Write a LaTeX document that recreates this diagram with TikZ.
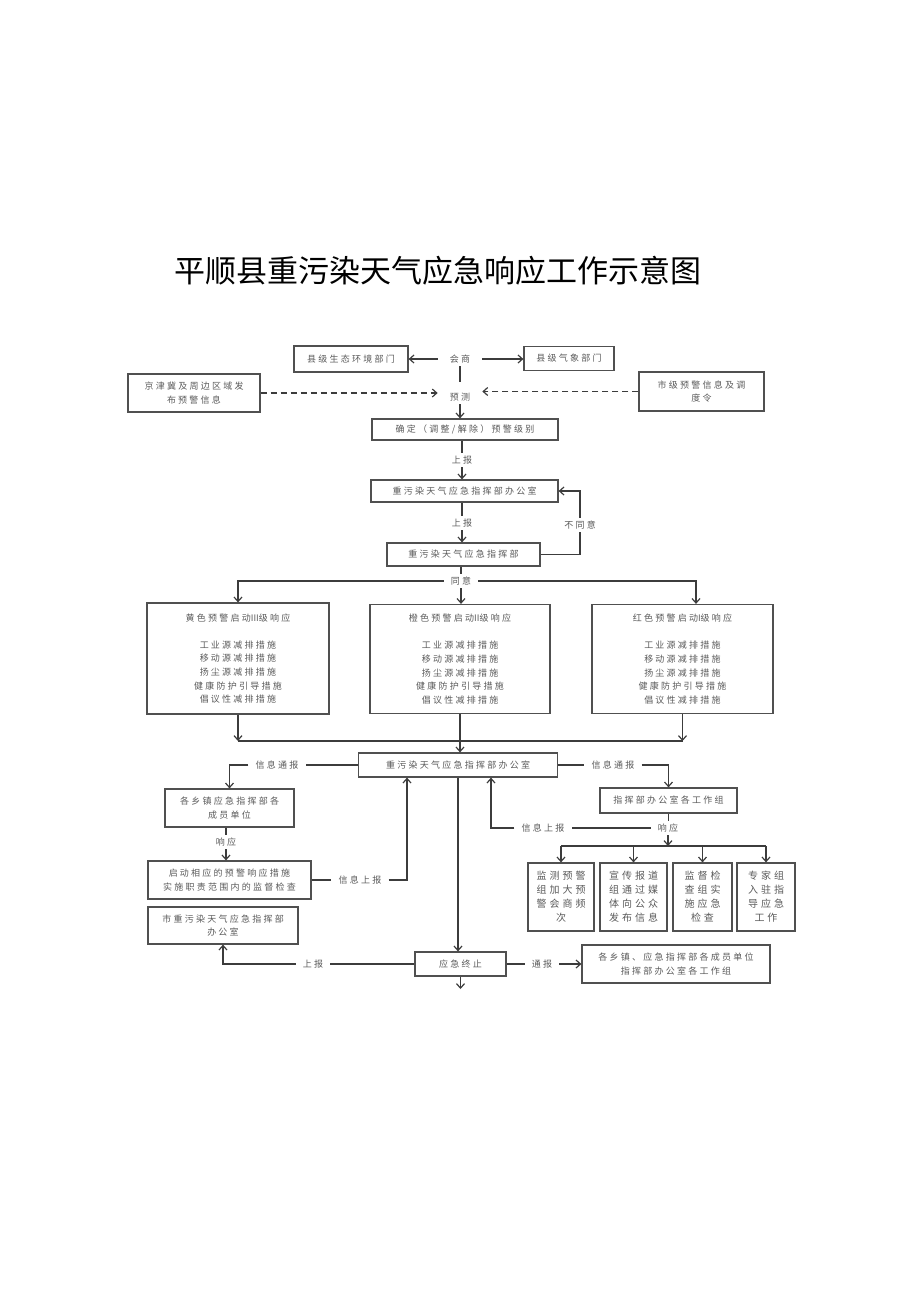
\documentclass[tikz,border=0pt]{standalone}
\usepackage{fontspec}
\setmainfont{Noto Sans CJK SC}
\newfontfamily\cjk{Noto Sans CJK SC}
\newfontfamily\cjks[LetterSpace=25]{Noto Sans CJK SC}
\newfontfamily\cjkw[LetterSpace=30]{Noto Sans CJK SC}
\usetikzlibrary{arrows.meta}
\definecolor{linec}{HTML}{3C3C3C}
\definecolor{boxc}{HTML}{505050}
\definecolor{txtc}{HTML}{5A5A5A}
\newcommand{\smfont}{\cjks\fontsize{9}{13.6}\selectfont}
\newcommand{\wdfont}{\cjkw\fontsize{10}{14}\selectfont}
\newcommand{\rom}[1]{{\cjk #1}}
\begin{document}
\begin{tikzpicture}[x=1pt,y=-1pt,
  >={Straight Barb[length=4.5pt,width=8pt]},
  conn/.style={draw=linec, line width=1.2pt},
  dconn/.style={draw=linec, line width=1.2pt, dash pattern=on 6pt off 4pt},
  box/.style={draw=boxc, line width=1.2pt, inner sep=0pt, align=center, text=txtc, font=\smfont},
  wbox/.style={box, font=\wdfont},
  lbl/.style={inner xsep=7pt, inner ysep=3pt, text=txtc, font=\smfont},
]
\useasboundingbox (0,0) rectangle (920,1301);

% title
\node[font=\cjk\fontsize{31}{31}\selectfont, inner sep=0pt] (title) at (437.5,271) {平顺县重污染天气应急响应工作示意图};

% top part
\node[box, minimum width=114pt, minimum height=26pt] (n1) at (351,359) {县级生态环境部门};
\node[box, minimum width=90pt, minimum height=24pt] (n2) at (569,358.5) {县级气象部门};
\node[lbl, inner xsep=12pt] (hs) at (460,359) {会商};
\node[lbl, inner xsep=12pt] (yc) at (460,397) {预测};
\node[box, minimum width=132pt, minimum height=38pt] (n3) at (194,393) {京津冀及周边区域发\\布预警信息};
\node[box, minimum width=125pt, minimum height=39pt] (n4) at (701.5,391.5) {市级预警信息及调\\度令};
\node[box, minimum width=186pt, minimum height=21pt] (n5) at (465,429.5) {确定（调整/解除）预警级别};
\node[lbl] (sb1) at (462,460) {上报};
\node[box, minimum width=187pt, minimum height=22pt] (n6) at (464.5,491) {重污染天气应急指挥部办公室};
\node[lbl] (sb2) at (462,523) {上报};
\node[box, minimum width=153pt, minimum height=23pt] (n7) at (463.5,554.5) {重污染天气应急指挥部};
\node[lbl] (bty) at (580,525) {不同意};
\node[lbl] (ty) at (461,581) {同意};

\draw[conn,->] (hs.west) -- (hs.west -| n1.east);
\draw[conn,->] (hs.east) -- (hs.east -| n2.west);
\draw[conn, shorten >=8pt] (hs.south) -- (yc.north);
\draw[dconn,->] (n3.east) -- (n3.east -| yc.west);
\draw[dconn,->] (n4.west) -- (n4.west -| yc.east);
\draw[conn,->] (yc.south) -- (yc.south |- n5.north);
\draw[conn] (n5.south -| sb1) -- (sb1.north);
\draw[conn,->] (sb1.south) -- (sb1.south |- n6.north);
\draw[conn] (n6.south -| sb2) -- (sb2.north);
\draw[conn,->] (sb2.south) -- (sb2.south |- n7.north);
\draw[conn] (n7.east) -| (bty.south);
\draw[conn,->] (bty.north) |- (n6.east);
\draw[conn] (n7.south -| ty) -- (ty.north);

% three level boxes
\node[box, minimum width=182pt, minimum height=111pt] (yel) at (238,658.5)
  {黄色预警启动\rom{III}级响应\\[13.6pt]工业源减排措施\\移动源减排措施\\扬尘源减排措施\\健康防护引导措施\\倡议性减排措施};
\node[box, minimum width=180pt, minimum height=109pt] (ora) at (460,659)
  {橙色预警启动\rom{II}级响应\\[13.6pt]工业源减排措施\\移动源减排措施\\扬尘源减排措施\\健康防护引导措施\\倡议性减排措施};
\node[box, minimum width=181pt, minimum height=109pt] (red) at (682.5,659)
  {红色预警启动\rom{I}级响应\\[13.6pt]工业源减排措施\\移动源减排措施\\扬尘源减排措施\\健康防护引导措施\\倡议性减排措施};

\draw[conn,->] (ty.west) -| (yel.north);
\draw[conn,->] (ty.east) -| ([xshift=13.5pt]red.north);
\draw[conn,->] (ty.south) -- (ty.south |- ora.north);

% lower office
\node[box, minimum width=199pt, minimum height=24pt] (off2) at (458,765) {重污染天气应急指挥部办公室};
\coordinate (busA) at (238,741);
\coordinate (busB) at (682.5,741);
\draw[conn,->] (yel.south) -- (busA);
\draw[conn,->] (red.south) -- (busB);
\draw[conn] (busA) -- (busB);
\draw[conn,->] (ora.south) -- (ora.south |- off2.north);

% left branch
\node[lbl] (tb1) at (277,765) {信息通报};
\node[box, minimum width=129pt, minimum height=38pt] (n9) at (229.5,808) {各乡镇应急指挥部各\\成员单位};
\node[lbl] (xy1) at (226,842) {响应};
\node[box, minimum width=163pt, minimum height=38pt] (n10) at (229.5,880) {启动相应的预警响应措施\\实施职责范围内的监督检查};
\node[lbl] (sb3) at (360,880) {信息上报};
\node[box, minimum width=150pt, minimum height=37pt] (n11) at (223,925.5) {市重污染天气应急指挥部\\办公室};

\draw[conn] (off2.west) -- (tb1.east);
\draw[conn,->] (tb1.west) -| (n9.north);
\draw[conn] (n9.south -| xy1) -- (xy1.north);
\draw[conn,->] (xy1.south) -- (xy1.south |- n10.north);
\draw[conn] (n10.east) -- (sb3.west);
\draw[conn,->] (sb3.east) -| ([xshift=-51pt]off2.south);

% end
\node[box, minimum width=91pt, minimum height=24pt] (n12) at (460.5,964) {应急终止};
\node[lbl] (sb4) at (313,964) {上报};
\node[lbl] (tb3) at (542,964) {通报};
\node[box, minimum width=188pt, minimum height=38pt] (n13) at (676,964) {各乡镇、应急指挥部各成员单位\\指挥部办公室各工作组};
\coordinate (endp) at (460.5,989);

\draw[conn,->] (off2.south) -- (off2.south |- n12.north);
\draw[conn] (n12.west) -- (sb4.east);
\draw[conn,->] (sb4.west) -| (n11.south);
\draw[conn] (n12.east) -- (tb3.west);
\draw[conn,->] (tb3.east) -- (n13.west);
\draw[conn,->] (n12.south) -- (endp);

% right branch
\node[lbl] (tb2) at (613,765) {信息通报};
\node[box, minimum width=137pt, minimum height=25pt] (n14) at (668.5,800.5) {指挥部办公室各工作组};
\node[lbl] (xy2) at (668,828) {响应};
\node[lbl] (sb5) at (543,828) {信息上报};
\coordinate (bus) at (668,846);
\node[wbox, minimum width=66pt, minimum height=68pt] (b1) at (561,897) {监测预警\\组加大预\\警会商频\\次};
\node[wbox, minimum width=67pt, minimum height=68pt] (b2) at (633.5,897) {宣传报道\\组通过媒\\体向公众\\发布信息};
\node[wbox, minimum width=59pt, minimum height=68pt] (b3) at (702.5,897) {监督检\\查组实\\施应急\\检查};
\node[wbox, minimum width=58pt, minimum height=68pt] (b4) at (766,897) {专家组\\入驻指\\导应急\\工作};

\draw[conn] (off2.east) -- (tb2.west);
\draw[conn,->] (tb2.east) -| (n14.north);
\draw[conn] (n14.south) -- (n14.south |- xy2.north);
\draw[conn,->] (xy2.south) -- (bus);
\draw[conn] (b1.north |- bus) -- (b4.north |- bus);
\foreach \b in {b1,b2,b3,b4} \draw[conn,->] (\b.north |- bus) -- (\b.north);
\draw[conn] (xy2.west) -- (sb5.east);
\draw[conn,->] (sb5.west) -| ([xshift=33pt]off2.south);
\end{tikzpicture}
\end{document}
